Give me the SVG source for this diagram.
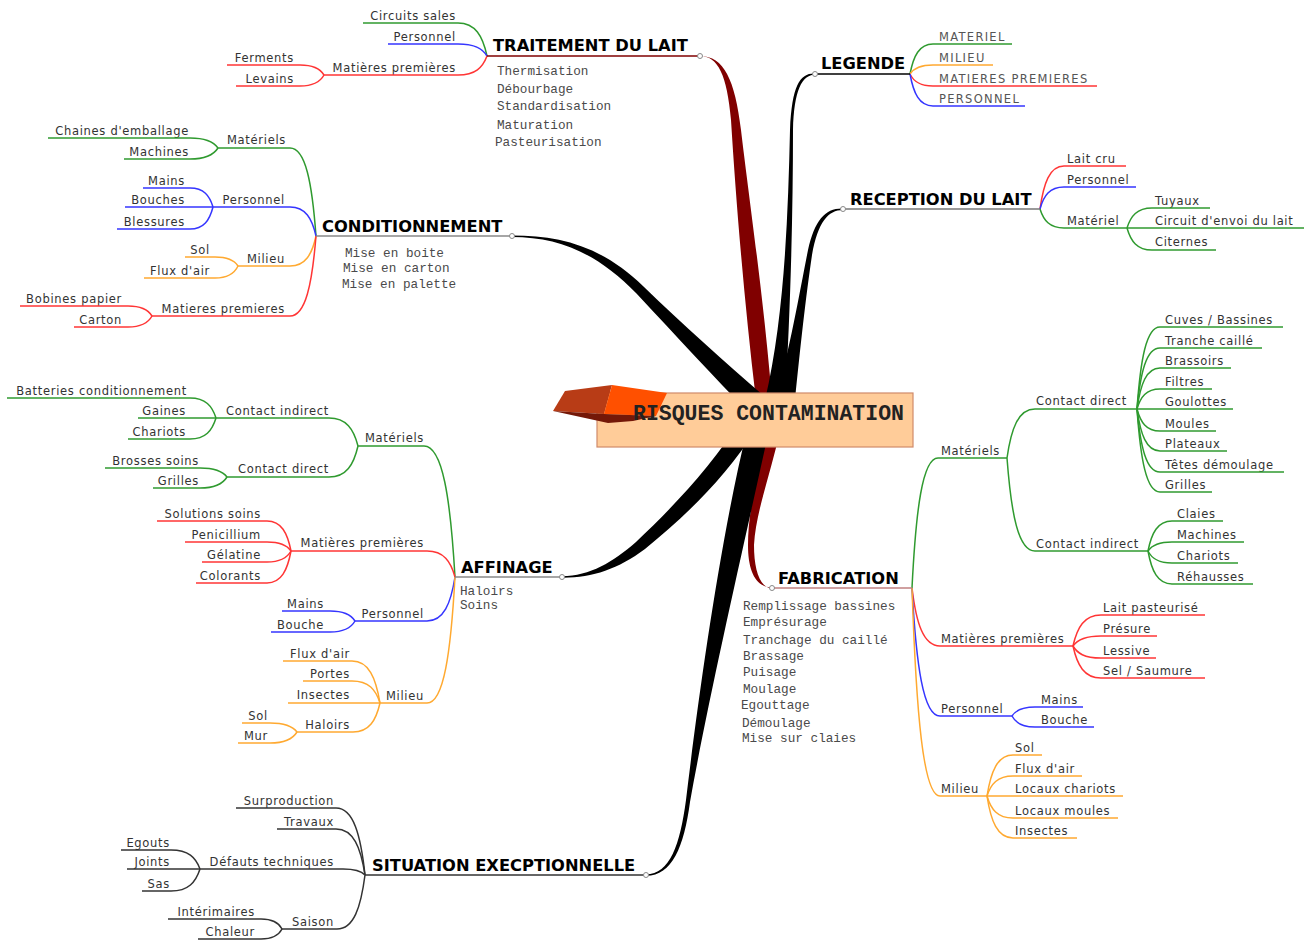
<svg xmlns="http://www.w3.org/2000/svg" width="1313" height="942" viewBox="0 0 1313 942">
<style>
text{font-family:"DejaVu Sans",Verdana,sans-serif}
.t{font-size:11.5px;letter-spacing:0.7px;fill:#333}
.e{text-anchor:end}
.m{font-family:"Liberation Mono","Courier New",monospace;font-size:12.7px;fill:#4a4a4a}
.ct{font-family:"Liberation Mono","Courier New",monospace;font-weight:bold;font-size:21.5px;fill:#222}
.h{font-weight:bold;font-size:16.3px;fill:#000}
.lg{font-size:11.5px;letter-spacing:1.3px;fill:#555}
path.c,path.u{fill:none;stroke-width:1.5}
.g{stroke:#2f9a2f}.b{stroke:#3535ff}.o{stroke:#ffa930}.r{stroke:#ff3535}.k{stroke:#333}
.dot{fill:#fff;stroke:#888;stroke-width:1}
</style>
<rect width="1313" height="942" fill="#fff"/>
<g id="connectors">
 <g id="main-branches">
  <path fill="#800000" d="M700,56 C718,56 727,75 731,120 C736,200 744,300 756,400 L772,400 C764,300 748,190 741,130 C735,80 724,56 700,56 Z"/>
  <path fill="#800000" d="M772,587.5 C755,587 748,570 748,545 C748,510 758,470 768,430 L780,430 C772,470 756,510 754,545 C754,570 760,588 772,588.5 Z"/>
  <path fill="#000" d="M815,73.5 C800,73 792,85 790,130 C788,220 784,320 765,400 L785,400 C790,320 793,220 793,130 C794,90 802,75 815,74.5 Z"/>
  <path fill="#000" d="M843,208.5 C825,208 815,220 808,250 C800,290 790,350 775,400 L795,400 C800,350 806,295 812,255 C818,222 828,210 843,210 Z"/>
  <path fill="#000" d="M512,235.5 C560,235.5 602,246 643.5,286.5 C683,325 725,362 765,397 L749,413 C715,378 677,337 636.5,293.5 C598,254 560,237 512,237 Z"/>
  <path fill="#000" d="M562,576.3 C590,576 613,562 636,542 C675,505 710,468 744.5,415 L759.5,425 C722,482 686,515 645,549 C618,569 592,578 562,577.7 Z"/>
  <path fill="#000" d="M646,874.5 C670,874 680,845 686,800 C698,700 720,540 747,430 L769,430 C745,540 708,700 690,802 C684,847 672,876 646,875.8 Z"/>
 </g>
 <g id="sub-branches">
  <path class="c g" d="M487,56 C482.7,36.2 475.4,23 458,23"/>
  <path class="c b" d="M487,56 C482.7,48.8 475.4,44 458,44"/>
  <path class="c r" d="M487,56 C482.7,67.4 475.4,75 458,75"/>
  <path class="c r" d="M324,75 C320.4,69 314.4,65 300,65"/>
  <path class="c r" d="M324,75 C320.4,81.6 314.4,86 300,86"/>
  <path class="c g" d="M910,74 C913.5,56 919.2,44 933,44"/>
  <path class="c o" d="M910,74 C913.5,68.6 919.2,65 933,65"/>
  <path class="c r" d="M910,74 C913.5,81.2 919.2,86 933,86"/>
  <path class="c b" d="M910,74 C913.5,93.2 919.2,106 933,106"/>
  <path class="c r" d="M1040,209 C1043.6,183.2 1049.6,166 1064,166"/>
  <path class="c b" d="M1040,209 C1043.6,195.8 1049.6,187 1064,187"/>
  <path class="c g" d="M1040,209 C1043.6,220.4 1049.6,228 1064,228"/>
  <path class="c g" d="M1127,228 C1130.8,216 1137,208 1152,208"/>
  <path class="c g" d="M1127,228 L1152,228"/>
  <path class="c g" d="M1127,228 C1130.8,241.2 1137,250 1152,250"/>
  <path class="c g" d="M316,236 C312.1,183.2 305.6,148 290,148"/>
  <path class="c g" d="M218,148 C213.8,142 206.8,138 190,138"/>
  <path class="c g" d="M218,148 C213.8,154.6 206.8,159 190,159"/>
  <path class="c b" d="M316,236 C312.1,218.6 305.6,207 290,207"/>
  <path class="c b" d="M213,207 C209.6,195.6 203.8,188 190,188"/>
  <path class="c b" d="M213,207 L190,207"/>
  <path class="c b" d="M213,207 C209.6,220.2 203.8,229 190,229"/>
  <path class="c o" d="M316,236 C312.1,254 305.6,266 290,266"/>
  <path class="c o" d="M238,266 C234.6,260.6 228.8,257 215,257"/>
  <path class="c o" d="M238,266 C234.6,273.2 228.8,278 215,278"/>
  <path class="c r" d="M316,236 C312.1,284 305.6,316 290,316"/>
  <path class="c r" d="M152,316 C148.4,310 142.4,306 128,306"/>
  <path class="c r" d="M152,316 C148.4,322.6 142.4,327 128,327"/>
  <path class="c g" d="M455,577 C450.4,498.4 442.6,446 424,446"/>
  <path class="c g" d="M358,446 C353.7,429.2 346.4,418 329,418"/>
  <path class="c g" d="M216,418 C212.1,406 205.6,398 190,398"/>
  <path class="c g" d="M216,418 L190,418"/>
  <path class="c g" d="M216,418 C212.1,430.6 205.6,439 190,439"/>
  <path class="c g" d="M358,446 C353.7,464.6 346.4,477 329,477"/>
  <path class="c g" d="M227,477 C223,471.6 216.2,468 200,468"/>
  <path class="c g" d="M227,477 C223,483.6 216.2,488 200,488"/>
  <path class="c r" d="M455,577 C450.8,561.4 443.8,551 427,551"/>
  <path class="c r" d="M291,551 C287.4,533 281.4,521 267,521"/>
  <path class="c r" d="M291,551 C287.4,545.6 281.4,542 267,542"/>
  <path class="c r" d="M291,551 C287.4,557.6 281.4,562 267,562"/>
  <path class="c r" d="M291,551 C287.4,570.2 281.4,583 267,583"/>
  <path class="c b" d="M455,577 C450.8,603.4 443.8,621 427,621"/>
  <path class="c b" d="M355,621 C351.3,615 345,611 330,611"/>
  <path class="c b" d="M355,621 C351.3,627.6 345,632 330,632"/>
  <path class="c o" d="M455,577 C450.8,652.6 443.8,703 427,703"/>
  <path class="c o" d="M380,703 C375.8,677.8 368.8,661 352,661"/>
  <path class="c o" d="M380,703 C375.8,689.8 368.8,681 352,681"/>
  <path class="c o" d="M380,703 L352,703"/>
  <path class="c o" d="M380,703 C376,720.4 369.2,732 353,732"/>
  <path class="c o" d="M297,732 C293,726.6 286.2,723 270,723"/>
  <path class="c o" d="M297,732 C293,738.6 286.2,743 270,743"/>
  <path class="c k" d="M365,875 C360.7,834.8 353.4,808 336,808"/>
  <path class="c k" d="M365,875 C360.7,847.4 353.4,829 336,829"/>
  <path class="c k" d="M365,875 C361.7,871.4 356.2,869 343,869"/>
  <path class="c k" d="M200,869 C195.7,857.6 188.4,850 171,850"/>
  <path class="c k" d="M200,869 L171,869"/>
  <path class="c k" d="M200,869 C195.7,882.2 188.4,891 171,891"/>
  <path class="c k" d="M365,875 C360.8,907.4 353.8,929 337,929"/>
  <path class="c k" d="M282,929 C278.9,923 273.6,919 261,919"/>
  <path class="c k" d="M282,929 C278.9,935 273.6,939 261,939"/>
  <path class="c g" d="M912,588 C915.9,510 922.4,458 938,458"/>
  <path class="c g" d="M1007,458 C1011.2,428.6 1018.2,409 1035,409"/>
  <path class="c g" d="M1137,409 C1140.5,359.8 1146.2,327 1160,327"/>
  <path class="c g" d="M1137,409 C1140.5,372.4 1146.2,348 1160,348"/>
  <path class="c g" d="M1137,409 C1140.5,384.4 1146.2,368 1160,368"/>
  <path class="c g" d="M1137,409 C1140.5,397 1146.2,389 1160,389"/>
  <path class="c g" d="M1137,409 L1160,409"/>
  <path class="c g" d="M1137,409 C1140.5,422.2 1146.2,431 1160,431"/>
  <path class="c g" d="M1137,409 C1140.5,434.2 1146.2,451 1160,451"/>
  <path class="c g" d="M1137,409 C1140.5,446.8 1146.2,472 1160,472"/>
  <path class="c g" d="M1137,409 C1140.5,458.8 1146.2,492 1160,492"/>
  <path class="c g" d="M1007,458 C1011.2,513.8 1018.2,551 1035,551"/>
  <path class="c g" d="M1148,551 C1151.6,533 1157.6,521 1172,521"/>
  <path class="c g" d="M1148,551 C1151.6,545.6 1157.6,542 1172,542"/>
  <path class="c g" d="M1148,551 C1151.6,558.2 1157.6,563 1172,563"/>
  <path class="c g" d="M1148,551 C1151.6,570.8 1157.6,584 1172,584"/>
  <path class="c r" d="M912,588 C916.2,622.8 923.2,646 940,646"/>
  <path class="c r" d="M1073,646 C1077.2,627.4 1084.2,615 1101,615"/>
  <path class="c r" d="M1073,646 C1077.2,640 1084.2,636 1101,636"/>
  <path class="c r" d="M1073,646 C1077.2,653.2 1084.2,658 1101,658"/>
  <path class="c r" d="M1073,646 C1077.2,665.2 1084.2,678 1101,678"/>
  <path class="c b" d="M912,588 C916.2,664.8 923.2,716 940,716"/>
  <path class="c b" d="M1012,716 C1015.5,710.6 1021.2,707 1035,707"/>
  <path class="c b" d="M1012,716 C1015.5,722.6 1021.2,727 1035,727"/>
  <path class="c o" d="M912,588 C916.2,712.8 923.2,796 940,796"/>
  <path class="c o" d="M987,796 C990.9,771.4 997.4,755 1013,755"/>
  <path class="c o" d="M987,796 C990.9,784 997.4,776 1013,776"/>
  <path class="c o" d="M987,796 L1013,796"/>
  <path class="c o" d="M987,796 C990.9,809.2 997.4,818 1013,818"/>
  <path class="c o" d="M987,796 C990.9,821.2 997.4,838 1013,838"/>
 </g>
</g>

<g id="center">
 <rect x="597" y="393" width="316" height="54" fill="#FFCC99" stroke="#D08A6A" stroke-width="1.2"/>
 <polygon points="553,411 565,391 612,385 604,414" fill="#B83C16"/>
 <polygon points="612,385 667,393 656,416 604,414" fill="#FF5000"/>
 <polygon points="553,411 604,414 656,416 633,421 608,423" fill="#741808"/>
 <text class="ct" x="633" y="420">RISQUES CONTAMINATION</text>
</g>

<g id="traitement">
 <text class="h" x="493" y="51">TRAITEMENT DU LAIT</text>
 <path class="u" stroke="#800000" d="M487,56 H700"/>
 <circle class="dot" cx="700" cy="56" r="2.5"/>
 <text class="m" x="497" y="75">Thermisation</text>
 <text class="m" x="497" y="93">Débourbage</text>
 <text class="m" x="497" y="110">Standardisation</text>
 <text class="m" x="497" y="129">Maturation</text>
 <text class="m" x="495" y="146">Pasteurisation</text>
</g>
<g id="tr-circuits"><text class="t e" x="456" y="20">Circuits sales</text><path class="u g" d="M458,23 H363"/></g>
<g id="tr-personnel"><text class="t e" x="456" y="41">Personnel</text><path class="u b" d="M458,44 H388"/></g>
<g id="tr-matieres"><text class="t e" x="456" y="72">Matières premières</text><path class="u r" d="M458,75 H324"/></g>
<g id="tr-ferments"><text class="t e" x="294" y="62">Ferments</text><path class="u r" d="M300,65 H227"/></g>
<g id="tr-levains"><text class="t e" x="294" y="83">Levains</text><path class="u r" d="M300,86 H236"/></g>

<g id="legende">
 <text class="h" x="821" y="69">LEGENDE</text>
 <path class="u" stroke="#000" d="M815,74 H910"/>
 <circle class="dot" cx="815" cy="74" r="2.5"/>
</g>
<g id="lg-materiel"><text class="lg" x="939" y="41">MATERIEL</text><path class="u g" d="M933,44 H1012"/></g>
<g id="lg-milieu"><text class="lg" x="939" y="62">MILIEU</text><path class="u o" d="M933,65 H993"/></g>
<g id="lg-matieres"><text class="lg" x="939" y="83">MATIERES PREMIERES</text><path class="u r" d="M933,86 H1097"/></g>
<g id="lg-personnel"><text class="lg" x="939" y="103">PERSONNEL</text><path class="u b" d="M933,106 H1025"/></g>

<g id="reception">
 <text class="h" x="850" y="205">RECEPTION DU LAIT</text>
 <path class="u" stroke="#777" d="M843,209 H1040"/>
 <circle class="dot" cx="843" cy="209" r="2.5"/>
</g>
<g id="rc-laitcru"><text class="t" x="1067" y="163">Lait cru</text><path class="u r" d="M1064,166 H1126"/></g>
<g id="rc-personnel"><text class="t" x="1067" y="184">Personnel</text><path class="u b" d="M1064,187 H1136"/></g>
<g id="rc-materiel"><text class="t" x="1067" y="225">Matériel</text><path class="u g" d="M1064,228 H1127"/></g>
<g id="rc-tuyaux"><text class="t" x="1155" y="205">Tuyaux</text><path class="u g" d="M1152,208 H1210"/></g>
<g id="rc-circuit"><text class="t" x="1155" y="225">Circuit d'envoi du lait</text><path class="u g" d="M1152,228 H1304"/></g>
<g id="rc-citernes"><text class="t" x="1155" y="246">Citernes</text><path class="u g" d="M1152,250 H1216"/></g>

<g id="conditionnement">
 <text class="h" x="322" y="232">CONDITIONNEMENT</text>
 <path class="u" stroke="#888" d="M316,236 H512"/>
 <circle class="dot" cx="512" cy="236" r="2.5"/>
 <text class="m" x="345" y="257">Mise en boite</text>
 <text class="m" x="343" y="272">Mise en carton</text>
 <text class="m" x="342" y="288">Mise en palette</text>
</g>
<g id="co-materiels"><text class="t e" x="286" y="144">Matériels</text><path class="u g" d="M290,148 H218"/></g>
<g id="co-chaines"><text class="t e" x="189" y="135">Chaines d'emballage</text><path class="u g" d="M190,138 H48"/></g>
<g id="co-machines"><text class="t e" x="189" y="156">Machines</text><path class="u g" d="M190,159 H124"/></g>
<g id="co-personnel"><text class="t e" x="285" y="204">Personnel</text><path class="u b" d="M290,207 H213"/></g>
<g id="co-mains"><text class="t e" x="185" y="185">Mains</text><path class="u b" d="M190,188 H143"/></g>
<g id="co-bouches"><text class="t e" x="185" y="204">Bouches</text><path class="u b" d="M190,207 H125"/></g>
<g id="co-blessures"><text class="t e" x="185" y="226">Blessures</text><path class="u b" d="M190,229 H117"/></g>
<g id="co-milieu"><text class="t e" x="285" y="263">Milieu</text><path class="u o" d="M290,266 H238"/></g>
<g id="co-sol"><text class="t e" x="210" y="254">Sol</text><path class="u o" d="M215,257 H185"/></g>
<g id="co-flux"><text class="t e" x="210" y="275">Flux d'air</text><path class="u o" d="M215,278 H144"/></g>
<g id="co-matieres"><text class="t e" x="285" y="313">Matieres premieres</text><path class="u r" d="M290,316 H152"/></g>
<g id="co-bobines"><text class="t e" x="122" y="303">Bobines papier</text><path class="u r" d="M128,306 H20"/></g>
<g id="co-carton"><text class="t e" x="122" y="324">Carton</text><path class="u r" d="M128,327 H74"/></g>

<g id="affinage">
 <text class="h" x="461" y="573">AFFINAGE</text>
 <path class="u" stroke="#888" d="M455,577 H562"/>
 <circle class="dot" cx="562" cy="577" r="2.5"/>
 <text class="m" x="460" y="595">Haloirs</text>
 <text class="m" x="460" y="609">Soins</text>
</g>
<g id="af-materiels"><text class="t e" x="424" y="442">Matériels</text><path class="u g" d="M424,446 H358"/></g>
<g id="af-cindirect"><text class="t e" x="329" y="415">Contact indirect</text><path class="u g" d="M329,418 H216"/></g>
<g id="af-batteries"><text class="t e" x="187" y="395">Batteries conditionnement</text><path class="u g" d="M190,398 H7"/></g>
<g id="af-gaines"><text class="t e" x="186" y="415">Gaines</text><path class="u g" d="M190,418 H138"/></g>
<g id="af-chariots"><text class="t e" x="186" y="436">Chariots</text><path class="u g" d="M190,439 H128"/></g>
<g id="af-cdirect"><text class="t e" x="329" y="473">Contact direct</text><path class="u g" d="M329,477 H227"/></g>
<g id="af-brosses"><text class="t e" x="199" y="465">Brosses soins</text><path class="u g" d="M200,468 H105"/></g>
<g id="af-grilles"><text class="t e" x="199" y="485">Grilles</text><path class="u g" d="M200,488 H153"/></g>
<g id="af-matieres"><text class="t e" x="424" y="547">Matières premières</text><path class="u r" d="M427,551 H291"/></g>
<g id="af-solutions"><text class="t e" x="261" y="518">Solutions soins</text><path class="u r" d="M267,521 H157"/></g>
<g id="af-penicillium"><text class="t e" x="261" y="539">Penicillium</text><path class="u r" d="M267,542 H185"/></g>
<g id="af-gelatine"><text class="t e" x="261" y="559">Gélatine</text><path class="u r" d="M267,562 H202"/></g>
<g id="af-colorants"><text class="t e" x="261" y="580">Colorants</text><path class="u r" d="M267,583 H196"/></g>
<g id="af-personnel"><text class="t e" x="424" y="618">Personnel</text><path class="u b" d="M427,621 H355"/></g>
<g id="af-mains"><text class="t e" x="324" y="608">Mains</text><path class="u b" d="M330,611 H282"/></g>
<g id="af-bouche"><text class="t e" x="324" y="629">Bouche</text><path class="u b" d="M330,632 H271"/></g>
<g id="af-milieu"><text class="t e" x="424" y="700">Milieu</text><path class="u o" d="M427,703 H380"/></g>
<g id="af-flux"><text class="t e" x="350" y="658">Flux d'air</text><path class="u o" d="M352,661 H283"/></g>
<g id="af-portes"><text class="t e" x="350" y="678">Portes</text><path class="u o" d="M352,681 H303"/></g>
<g id="af-insectes"><text class="t e" x="350" y="699">Insectes</text><path class="u o" d="M352,703 H288"/></g>
<g id="af-haloirs"><text class="t e" x="350" y="729">Haloirs</text><path class="u o" d="M353,732 H297"/></g>
<g id="af-sol"><text class="t e" x="268" y="720">Sol</text><path class="u o" d="M270,723 H242"/></g>
<g id="af-mur"><text class="t e" x="268" y="740">Mur</text><path class="u o" d="M270,743 H238"/></g>

<g id="situation">
 <text class="h" x="372" y="871">SITUATION EXECPTIONNELLE</text>
 <path class="u" stroke="#333" d="M365,875 H646"/>
 <circle class="dot" cx="646" cy="875" r="2.5"/>
</g>
<g id="si-surproduction"><text class="t e" x="334" y="805">Surproduction</text><path class="u k" d="M336,808 H236"/></g>
<g id="si-travaux"><text class="t e" x="334" y="826">Travaux</text><path class="u k" d="M336,829 H277"/></g>
<g id="si-defauts"><text class="t e" x="334" y="866">Défauts techniques</text><path class="u k" d="M343,869 H200"/></g>
<g id="si-egouts"><text class="t e" x="170" y="847">Egouts</text><path class="u k" d="M171,850 H121"/></g>
<g id="si-joints"><text class="t e" x="170" y="866">Joints</text><path class="u k" d="M171,869 H127"/></g>
<g id="si-sas"><text class="t e" x="170" y="888">Sas</text><path class="u k" d="M171,891 H142"/></g>
<g id="si-saison"><text class="t e" x="334" y="926">Saison</text><path class="u k" d="M337,929 H282"/></g>
<g id="si-interimaires"><text class="t e" x="255" y="916">Intérimaires</text><path class="u k" d="M261,919 H168"/></g>
<g id="si-chaleur"><text class="t e" x="255" y="936">Chaleur</text><path class="u k" d="M261,939 H198"/></g>

<g id="fabrication">
 <text class="h" x="778" y="584">FABRICATION</text>
 <path class="u" stroke="#c08080" d="M772,588 H912"/>
 <circle class="dot" cx="772" cy="588" r="2.5"/>
 <text class="m" x="743" y="610">Remplissage bassines</text>
 <text class="m" x="743" y="626">Emprésurage</text>
 <text class="m" x="743" y="644">Tranchage du caillé</text>
 <text class="m" x="743" y="660">Brassage</text>
 <text class="m" x="743" y="676">Puisage</text>
 <text class="m" x="743" y="693">Moulage</text>
 <text class="m" x="741" y="709">Egouttage</text>
 <text class="m" x="742" y="727">Démoulage</text>
 <text class="m" x="742" y="742">Mise sur claies</text>
</g>
<g id="fa-materiels"><text class="t" x="941" y="455">Matériels</text><path class="u g" d="M938,458 H1007"/></g>
<g id="fa-cdirect"><text class="t" x="1036" y="405">Contact direct</text><path class="u g" d="M1035,409 H1137"/></g>
<g id="fa-cuves"><text class="t" x="1165" y="324">Cuves / Bassines</text><path class="u g" d="M1160,327 H1283"/></g>
<g id="fa-tranche"><text class="t" x="1165" y="345">Tranche caillé</text><path class="u g" d="M1160,348 H1262"/></g>
<g id="fa-brassoirs"><text class="t" x="1165" y="365">Brassoirs</text><path class="u g" d="M1160,368 H1231"/></g>
<g id="fa-filtres"><text class="t" x="1165" y="386">Filtres</text><path class="u g" d="M1160,389 H1212"/></g>
<g id="fa-goulottes"><text class="t" x="1165" y="406">Goulottes</text><path class="u g" d="M1160,409 H1233"/></g>
<g id="fa-moules"><text class="t" x="1165" y="428">Moules</text><path class="u g" d="M1160,431 H1216"/></g>
<g id="fa-plateaux"><text class="t" x="1165" y="448">Plateaux</text><path class="u g" d="M1160,451 H1227"/></g>
<g id="fa-tetes"><text class="t" x="1165" y="469">Têtes démoulage</text><path class="u g" d="M1160,472 H1284"/></g>
<g id="fa-grilles"><text class="t" x="1165" y="489">Grilles</text><path class="u g" d="M1160,492 H1212"/></g>
<g id="fa-cindirect"><text class="t" x="1036" y="548">Contact indirect</text><path class="u g" d="M1035,551 H1148"/></g>
<g id="fa-claies"><text class="t" x="1177" y="518">Claies</text><path class="u g" d="M1172,521 H1223"/></g>
<g id="fa-machines"><text class="t" x="1177" y="539">Machines</text><path class="u g" d="M1172,542 H1244"/></g>
<g id="fa-chariots"><text class="t" x="1177" y="560">Chariots</text><path class="u g" d="M1172,563 H1238"/></g>
<g id="fa-rehausses"><text class="t" x="1177" y="581">Réhausses</text><path class="u g" d="M1172,584 H1253"/></g>
<g id="fa-matieres"><text class="t" x="941" y="643">Matières premières</text><path class="u r" d="M940,646 H1073"/></g>
<g id="fa-lait"><text class="t" x="1103" y="612">Lait pasteurisé</text><path class="u r" d="M1101,615 H1205"/></g>
<g id="fa-presure"><text class="t" x="1103" y="633">Présure</text><path class="u r" d="M1101,636 H1157"/></g>
<g id="fa-lessive"><text class="t" x="1103" y="655">Lessive</text><path class="u r" d="M1101,658 H1156"/></g>
<g id="fa-sel"><text class="t" x="1103" y="675">Sel / Saumure</text><path class="u r" d="M1101,678 H1205"/></g>
<g id="fa-personnel"><text class="t" x="941" y="713">Personnel</text><path class="u b" d="M940,716 H1012"/></g>
<g id="fa-mains"><text class="t" x="1041" y="704">Mains</text><path class="u b" d="M1035,707 H1083"/></g>
<g id="fa-bouche"><text class="t" x="1041" y="724">Bouche</text><path class="u b" d="M1035,727 H1094"/></g>
<g id="fa-milieu"><text class="t" x="941" y="793">Milieu</text><path class="u o" d="M940,796 H987"/></g>
<g id="fa-sol"><text class="t" x="1015" y="752">Sol</text><path class="u o" d="M1013,755 H1042"/></g>
<g id="fa-flux"><text class="t" x="1015" y="773">Flux d'air</text><path class="u o" d="M1013,776 H1082"/></g>
<g id="fa-locaux-chariots"><text class="t" x="1015" y="793">Locaux chariots</text><path class="u o" d="M1013,796 H1123"/></g>
<g id="fa-locaux-moules"><text class="t" x="1015" y="815">Locaux moules</text><path class="u o" d="M1013,818 H1118"/></g>
<g id="fa-insectes"><text class="t" x="1015" y="835">Insectes</text><path class="u o" d="M1013,838 H1077"/></g>
</svg>
